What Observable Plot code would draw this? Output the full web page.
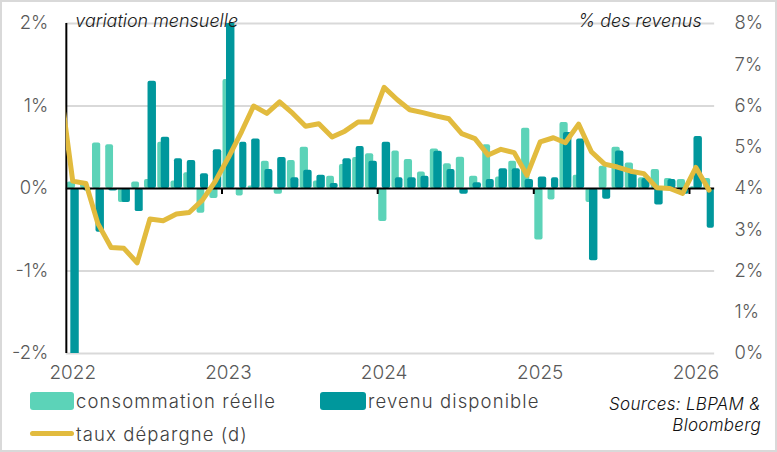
<!DOCTYPE html>
<html>
<head>
<meta charset="utf-8">
<script src="https://cdn.jsdelivr.net/npm/d3@7"></script>
<script src="https://cdn.jsdelivr.net/npm/@observablehq/plot@0.6"></script>
<style>
  html, body { margin: 0; padding: 0; background: #fff; }
  #wrap { position: relative; width: 777px; height: 452px; box-sizing: border-box; border: 2px solid #d9d9d9; overflow: hidden; font-family: Inter, "Open Sans", sans-serif; }
  #chart { position: absolute; left: -2px; top: -2px; }
  .leg { position: absolute; font-size: 18.5px; letter-spacing: 1.1px; font-weight: 300; color: #3f3f3f; white-space: nowrap; line-height: 20px; }
  .sw { position: absolute; }
  .src { position: absolute; right: 14px; font-size: 17px; letter-spacing: 0.3px; font-style: italic; color: #111; text-align: right; line-height: 21px; font-weight: 300; }
</style>
</head>
<body>
<div id="wrap">
  <div id="chart"></div>
  <div class="sw" style="left:28px; top:390px; width:44px; height:18px; background:#5cd3b8; border-radius:3px;"></div>
  <div class="leg" style="left:74px; top:389px;">consommation réelle</div>
  <div class="sw" style="left:318px; top:390px; width:46px; height:18px; background:#00979c; border-radius:3px;"></div>
  <div class="leg" style="left:366px; top:389px;">revenu disponible</div>
  <div class="sw" style="left:28px; top:429px; width:44px; height:5px; background:#e2bb3e; border-radius:3px;"></div>
  <div class="leg" style="left:74px; top:422px;">taux dépargne (d)</div>
  <div class="src" style="top:392px;">Sources: LBPAM &amp;<br>Bloomberg</div>
</div>
<script>
// Monthly variation (%) — real consumption, Jan 2022 .. Feb 2026
const consumption = [
  0.08, 0.07, 0.55, 0.53, -0.17, 0.08, 0.11, 0.56, 0.09, 0.19, -0.30, -0.12,
  1.32, -0.09, 0.03, 0.33, -0.07, 0.34, 0.50, 0.09, 0.15, 0.29, 0.375, 0.42,
  -0.40, 0.455, 0.35, 0.20, 0.48, 0.30, 0.38, 0.15, 0.53, 0.14, 0.33, 0.73,
  -0.625, -0.14, 0.80, 0.16, -0.17, 0.27, 0.50, 0.31, 0.13, 0.23, 0.12, 0.11,
  0.02, 0.12
];
// Monthly variation (%) — disposable income, Jan 2022 .. Feb 2026
const income = [
  -2.2, -0.03, -0.53, -0.03, -0.17, -0.28, 1.30, 0.62, 0.36, 0.34, 0.18, 0.47,
  2.1, 0.56, 0.60, 0.23, 0.375, 0.13, 0.22, 0.16, 0.06, 0.36, 0.51, 0.33,
  0.56, 0.13, 0.13, 0.15, 0.45, 0.23, -0.07, 0.07, 0.11, 0.24, 0.24, 0.11,
  0.14, 0.13, 0.68, 0.60, -0.875, -0.13, 0.455, 0.21, 0.12, -0.20, 0.11, -0.07,
  0.63, -0.48
];
// Savings rate (% of income), Dec 2021 .. Feb 2026 (right axis)
const savings = [
  6.6,
  4.18, 4.12, 3.15, 2.57, 2.55, 2.20, 3.26, 3.22, 3.38, 3.42, 3.72, 4.17,
  4.75, 5.38, 6.00, 5.82, 6.10, 5.82, 5.51, 5.57, 5.25, 5.39, 5.61, 5.61,
  6.45, 6.15, 5.91, 5.84, 5.76, 5.69, 5.33, 5.21, 4.81, 4.95, 4.87, 4.32,
  5.13, 5.23, 5.11, 5.56, 4.89, 4.59, 4.52, 4.42, 4.36, 4.02, 4.00, 3.88,
  4.51, 3.96
];
const leftTicks = [-2, -1, 0, 1, 2];
const rightTicks = [0, 1, 2, 3, 4, 5, 6, 7, 8];
const yearLabels = ["2022", "2023", "2024", "2025", "2026"];

const start = new Date(Date.UTC(2022, 0, 1));
const end = new Date(Date.UTC(2026, 2, 1));
const months = d3.utcMonth.range(start, end);
const savingMonths = d3.utcMonth.range(new Date(Date.UTC(2021, 11, 1)), end);

const bars = months.map((m, i) => ({start: m, end: d3.utcMonth.offset(m, 1), c: consumption[i], r: income[i]}));
const line = savingMonths.map((m, i) => ({date: d3.utcDay.offset(m, 15), v: savings[i]}));
const years = yearLabels.map(y => ({label: y, tick: new Date(Date.UTC(+y, 0, 1)), mid: new Date(Date.UTC(+y, 0, 16))}));
const toLeft = r => (r - 4) / 2;

const LIGHT = "#5cd3b8", DARK = "#00979c", GOLD = "#e2bb3e";
const FONT = "Inter, 'Open Sans', sans-serif";

const chart = Plot.plot({
  width: 777,
  height: 392,
  marginLeft: 66,
  marginRight: 61,
  marginTop: 23,
  marginBottom: 38,
  style: {fontFamily: FONT, fontSize: "18px", background: "transparent"},
  x: {type: "utc", domain: [start, end], axis: null},
  y: {domain: [-2, 2], axis: null},
  marks: [
    Plot.ruleY(leftTicks.filter(d => d !== 0), {stroke: "#d9d9d9", strokeWidth: 2}),
    Plot.rectY(bars, {x1: "start", x2: "end", y1: 0, y2: "c", fill: LIGHT, insetLeft: 1, insetRight: 4, rx: 2, clip: true}),
    Plot.rectY(bars, {x1: "start", x2: "end", y1: 0, y2: "r", fill: DARK, insetLeft: 4.5, insetRight: 0.3, rx: 2, clip: true}),
    Plot.ruleY([0], {stroke: "#000", strokeWidth: 2}),
    Plot.ruleX(years.slice(1), {x: "tick", y1: 0, y2: 0, insetBottom: -6, stroke: "#000", strokeWidth: 2}),
    Plot.ruleX([start], {stroke: "#000", strokeWidth: 2}),
    Plot.line(line, {x: "date", y: d => toLeft(d.v), stroke: GOLD, strokeWidth: 5, clip: true}),
    // left axis labels
    Plot.text(leftTicks, {frameAnchor: "left", y: d => d, text: d => d + "%", textAnchor: "end", dx: -18, fill: "#595959", fontWeight: 300, fontSize: 18.5, letterSpacing: 0.5}),
    // right axis labels
    Plot.text(rightTicks, {frameAnchor: "right", y: d => toLeft(d), text: d => d + "%", textAnchor: "start", dx: 20, fill: "#595959", fontWeight: 300, fontSize: 18.5, letterSpacing: 0.5}),
    // year labels
    Plot.text(years, {x: "mid", frameAnchor: "bottom", text: "label", dy: 25, fill: "#595959", fontWeight: 300, fontSize: 19, letterSpacing: 0.5}),
    // axis titles
    Plot.text(["variation mensuelle"], {frameAnchor: "top-left", text: d => d, textAnchor: "start", lineAnchor: "bottom", dx: 9, dy: 4, fontStyle: "italic", fontSize: 18, letterSpacing: 0.45, fill: "#1a1a1a", fontWeight: 300}),
    Plot.text(["% des revenus"], {frameAnchor: "top-right", text: d => d, textAnchor: "end", lineAnchor: "bottom", dx: -13, dy: 4, fontStyle: "italic", fontSize: 18, letterSpacing: 0.45, fill: "#1a1a1a", fontWeight: 300})
  ]
});
document.getElementById("chart").appendChild(chart);
</script>
</body>
</html>
